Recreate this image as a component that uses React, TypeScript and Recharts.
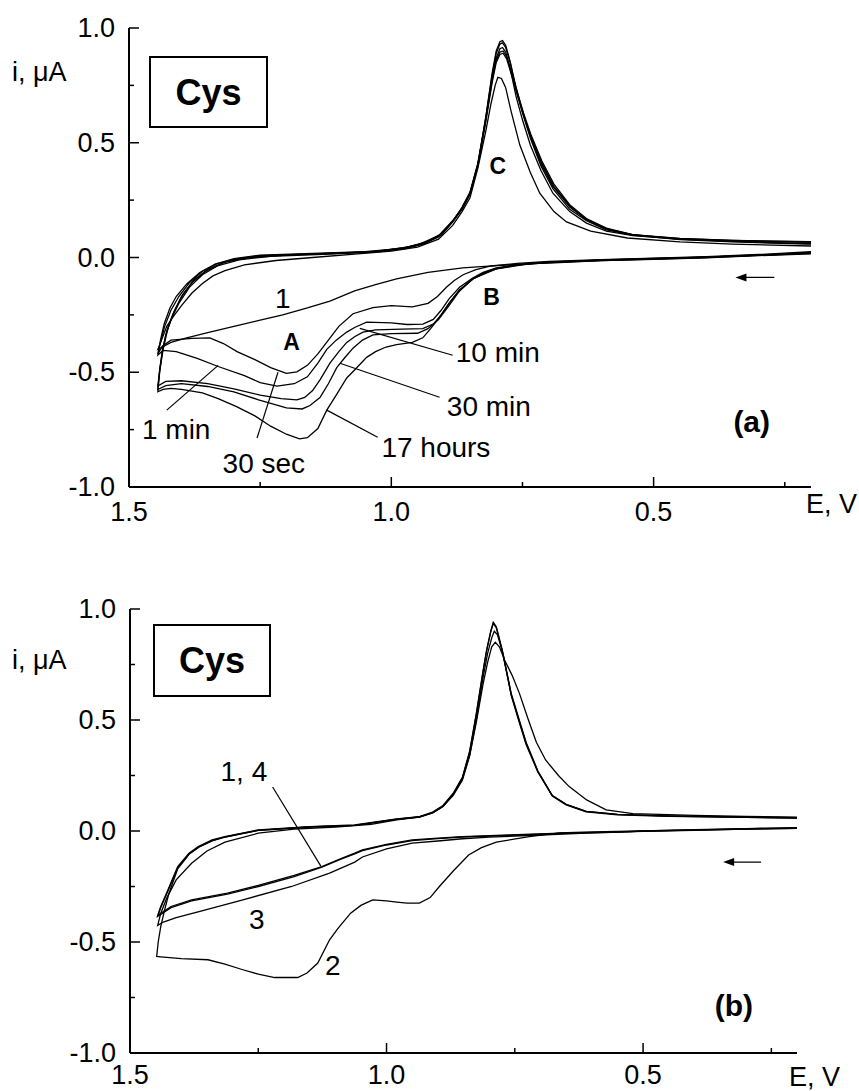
import React from 'react';
import { LineChart, Line, XAxis, YAxis, ReferenceLine, ReferenceDot } from 'recharts';

type P = [number, number]; // [E (V), i (µA)]

// x / y ticks
const xTicks = [1.5, 1.25, 1.0, 0.75, 0.5, 0.25];
const xLabels = [1.5, 1.0, 0.5];
const yTicks = [-1, -0.75, -0.5, -0.25, 0, 0.25, 0.5, 0.75, 1];
const yLabels = [-1, -0.5, 0, 0.5, 1];

// ---------- panel (a) ----------
const a1Lower: P[] = [[0.2,0.02],[0.3,0.01],[0.4,0.002],[0.5,-0.004],[0.6,-0.01],[0.7,-0.02],[0.74,-0.028],[0.8,-0.035],[0.864,-0.045],[0.93,-0.065],[0.99,-0.093],[1.03,-0.118],[1.07,-0.145],[1.117,-0.19],[1.16,-0.22],[1.207,-0.25],[1.254,-0.275],[1.3,-0.3],[1.346,-0.325],[1.39,-0.35],[1.42,-0.37],[1.445,-0.4]];
const a1Upper: P[] = [[1.445,-0.4],[1.438,-0.36],[1.428,-0.3],[1.415,-0.255],[1.4,-0.21],[1.38,-0.155],[1.36,-0.113],[1.34,-0.08],[1.317,-0.057],[1.28,-0.032],[1.22,-0.013],[1.15,0.0],[1.07,0.015],[1.0,0.028],[0.95,0.045],[0.91,0.08],[0.883,0.14],[0.865,0.2],[0.85,0.26],[0.835,0.39],[0.82,0.55],[0.81,0.67],[0.802,0.75],[0.797,0.785],[0.79,0.78],[0.782,0.74],[0.772,0.64],[0.755,0.49],[0.735,0.37],[0.717,0.28],[0.69,0.2],[0.666,0.155],[0.62,0.115],[0.55,0.085],[0.45,0.068],[0.35,0.058],[0.2,0.05]];

const a30sLower: P[] = [[0.2,0.025],[0.3,0.013],[0.4,0.004],[0.5,-0.003],[0.6,-0.009],[0.7,-0.017],[0.76,-0.026],[0.81,-0.037],[0.84,-0.054],[0.863,-0.075],[0.88,-0.1],[0.895,-0.13],[0.912,-0.17],[0.93,-0.2],[0.96,-0.215],[1.0,-0.21],[1.035,-0.218],[1.073,-0.245],[1.1,-0.3],[1.12,-0.36],[1.14,-0.42],[1.16,-0.47],[1.18,-0.498],[1.2,-0.505],[1.23,-0.48],[1.26,-0.445],[1.294,-0.41],[1.32,-0.375],[1.346,-0.35],[1.38,-0.352],[1.42,-0.36],[1.436,-0.385],[1.445,-0.42]];
const a30sUpper: P[] = [[1.445,-0.42],[1.44,-0.37],[1.432,-0.3],[1.42,-0.23],[1.405,-0.17],[1.385,-0.11],[1.36,-0.06],[1.33,-0.025],[1.3,-0.005],[1.25,0.01],[1.15,0.018],[1.05,0.025],[0.98,0.04],[0.946,0.058],[0.91,0.095],[0.883,0.16],[0.865,0.215],[0.85,0.28],[0.835,0.4],[0.82,0.6],[0.808,0.78],[0.8,0.87],[0.793,0.91],[0.788,0.915],[0.782,0.895],[0.773,0.82],[0.762,0.7],[0.75,0.6],[0.735,0.49],[0.715,0.38],[0.692,0.28],[0.66,0.2],[0.628,0.15],[0.59,0.115],[0.54,0.095],[0.45,0.08],[0.35,0.072],[0.2,0.066]];

const a1mLower: P[] = [[0.2,0.022],[0.3,0.011],[0.4,0.002],[0.5,-0.005],[0.6,-0.011],[0.7,-0.02],[0.76,-0.03],[0.8,-0.045],[0.825,-0.065],[0.845,-0.09],[0.87,-0.13],[0.89,-0.18],[0.905,-0.23],[0.92,-0.27],[0.94,-0.29],[0.97,-0.292],[1.0,-0.285],[1.047,-0.282],[1.07,-0.305],[1.085,-0.325],[1.105,-0.36],[1.123,-0.4],[1.14,-0.46],[1.16,-0.52],[1.185,-0.55],[1.218,-0.56],[1.25,-0.545],[1.28,-0.515],[1.33,-0.475],[1.37,-0.44],[1.41,-0.41],[1.435,-0.405],[1.445,-0.425]];
const a1mUpper: P[] = [[1.445,-0.425],[1.44,-0.36],[1.433,-0.29],[1.422,-0.22],[1.41,-0.17],[1.39,-0.115],[1.365,-0.065],[1.335,-0.028],[1.3,-0.008],[1.25,0.008],[1.15,0.016],[1.05,0.023],[0.98,0.038],[0.946,0.055],[0.91,0.09],[0.883,0.155],[0.865,0.21],[0.85,0.275],[0.835,0.4],[0.82,0.61],[0.808,0.8],[0.8,0.9],[0.793,0.94],[0.788,0.945],[0.782,0.925],[0.773,0.85],[0.762,0.73],[0.75,0.63],[0.735,0.52],[0.715,0.4],[0.692,0.3],[0.66,0.21],[0.628,0.16],[0.59,0.12],[0.54,0.098],[0.45,0.082],[0.35,0.074],[0.2,0.068]];

const a10mLower: P[] = [[0.2,0.02],[0.3,0.01],[0.4,0.001],[0.5,-0.006],[0.6,-0.012],[0.7,-0.021],[0.76,-0.032],[0.8,-0.048],[0.825,-0.068],[0.845,-0.095],[0.87,-0.14],[0.89,-0.2],[0.905,-0.25],[0.92,-0.29],[0.94,-0.31],[0.98,-0.312],[1.03,-0.315],[1.054,-0.325],[1.07,-0.345],[1.085,-0.37],[1.1,-0.41],[1.117,-0.46],[1.135,-0.53],[1.15,-0.58],[1.165,-0.61],[1.18,-0.62],[1.21,-0.615],[1.25,-0.6],[1.3,-0.572],[1.35,-0.55],[1.4,-0.537],[1.43,-0.54],[1.445,-0.56]];
const a10mUpper: P[] = [[1.445,-0.56],[1.441,-0.48],[1.436,-0.4],[1.428,-0.32],[1.416,-0.245],[1.4,-0.17],[1.38,-0.11],[1.355,-0.062],[1.32,-0.022],[1.28,-0.002],[1.22,0.01],[1.12,0.018],[1.03,0.027],[0.97,0.045],[0.935,0.065],[0.905,0.1],[0.883,0.16],[0.865,0.215],[0.85,0.28],[0.835,0.41],[0.82,0.61],[0.808,0.79],[0.8,0.89],[0.793,0.93],[0.788,0.935],[0.782,0.915],[0.773,0.845],[0.762,0.74],[0.75,0.64],[0.735,0.53],[0.715,0.41],[0.692,0.31],[0.66,0.22],[0.628,0.165],[0.59,0.125],[0.54,0.1],[0.45,0.083],[0.35,0.075],[0.2,0.069]];

const a30mLower: P[] = [[0.2,0.018],[0.3,0.009],[0.4,0.0],[0.5,-0.007],[0.6,-0.013],[0.7,-0.022],[0.76,-0.033],[0.8,-0.05],[0.825,-0.07],[0.845,-0.095],[0.87,-0.145],[0.89,-0.21],[0.91,-0.27],[0.93,-0.31],[0.95,-0.33],[1.0,-0.332],[1.035,-0.337],[1.055,-0.36],[1.073,-0.395],[1.09,-0.44],[1.104,-0.48],[1.12,-0.55],[1.136,-0.61],[1.155,-0.645],[1.17,-0.66],[1.2,-0.655],[1.253,-0.62],[1.3,-0.585],[1.35,-0.562],[1.4,-0.55],[1.43,-0.558],[1.445,-0.575]];
const a30mUpper: P[] = [[1.445,-0.575],[1.441,-0.49],[1.435,-0.4],[1.426,-0.31],[1.413,-0.23],[1.397,-0.16],[1.377,-0.1],[1.35,-0.052],[1.315,-0.018],[1.27,0.0],[1.2,0.01],[1.1,0.018],[1.02,0.028],[0.965,0.047],[0.93,0.07],[0.903,0.105],[0.882,0.16],[0.865,0.22],[0.85,0.285],[0.835,0.41],[0.82,0.6],[0.808,0.77],[0.8,0.86],[0.793,0.895],[0.787,0.9],[0.78,0.875],[0.77,0.8],[0.76,0.72],[0.748,0.63],[0.733,0.53],[0.713,0.42],[0.69,0.32],[0.66,0.23],[0.628,0.17],[0.59,0.128],[0.54,0.1],[0.45,0.08],[0.35,0.07],[0.2,0.06]];

const a17hLower: P[] = [[0.2,0.016],[0.3,0.008],[0.4,-0.001],[0.5,-0.008],[0.6,-0.014],[0.7,-0.024],[0.736,-0.027],[0.8,-0.05],[0.845,-0.093],[0.875,-0.157],[0.89,-0.2],[0.908,-0.26],[0.925,-0.31],[0.94,-0.35],[0.96,-0.37],[0.99,-0.38],[1.01,-0.39],[1.03,-0.41],[1.047,-0.435],[1.07,-0.49],[1.085,-0.525],[1.105,-0.6],[1.123,-0.665],[1.14,-0.745],[1.16,-0.785],[1.175,-0.79],[1.2,-0.77],[1.23,-0.735],[1.26,-0.69],[1.295,-0.65],[1.33,-0.615],[1.36,-0.59],[1.4,-0.575],[1.42,-0.57],[1.435,-0.575],[1.445,-0.585]];
const a17hUpper: P[] = [[1.445,-0.585],[1.442,-0.5],[1.437,-0.42],[1.43,-0.34],[1.42,-0.27],[1.405,-0.2],[1.385,-0.13],[1.36,-0.075],[1.33,-0.035],[1.29,-0.01],[1.23,0.005],[1.13,0.014],[1.03,0.024],[0.97,0.04],[0.935,0.062],[0.905,0.097],[0.883,0.155],[0.865,0.215],[0.85,0.28],[0.835,0.4],[0.82,0.59],[0.808,0.76],[0.8,0.85],[0.793,0.885],[0.787,0.89],[0.78,0.865],[0.77,0.79],[0.76,0.71],[0.748,0.62],[0.733,0.52],[0.713,0.41],[0.69,0.31],[0.66,0.225],[0.628,0.165],[0.59,0.125],[0.54,0.098],[0.45,0.078],[0.35,0.068],[0.2,0.058]];

// ---------- panel (b) ----------
const b1Lower: P[] = [[0.2,0.014],[0.3,0.01],[0.4,0.005],[0.5,0.0],[0.56,-0.005],[0.66,-0.01],[0.76,-0.018],[0.852,-0.025],[0.9,-0.032],[0.95,-0.04],[1.0,-0.06],[1.047,-0.085],[1.062,-0.1],[1.09,-0.125],[1.126,-0.16],[1.18,-0.2],[1.25,-0.245],[1.31,-0.28],[1.38,-0.31],[1.42,-0.34],[1.446,-0.38]];
const b1Upper: P[] = [[1.446,-0.38],[1.44,-0.34],[1.426,-0.265],[1.407,-0.16],[1.385,-0.1],[1.367,-0.07],[1.34,-0.04],[1.315,-0.025],[1.25,0.005],[1.15,0.02],[1.062,0.027],[0.98,0.055],[0.936,0.065],[0.91,0.085],[0.89,0.115],[0.87,0.17],[0.852,0.243],[0.838,0.36],[0.825,0.53],[0.812,0.72],[0.805,0.815],[0.797,0.9],[0.792,0.94],[0.786,0.92],[0.775,0.82],[0.757,0.62],[0.74,0.49],[0.728,0.4],[0.705,0.27],[0.677,0.16],[0.65,0.12],[0.611,0.088],[0.55,0.075],[0.45,0.068],[0.3,0.064],[0.2,0.06]];

const b4Lower: P[] = [[0.2,0.012],[0.3,0.009],[0.4,0.004],[0.5,-0.001],[0.56,-0.006],[0.66,-0.011],[0.76,-0.02],[0.852,-0.027],[0.9,-0.034],[0.95,-0.043],[1.0,-0.063],[1.047,-0.088],[1.062,-0.103],[1.09,-0.128],[1.126,-0.163],[1.18,-0.205],[1.25,-0.25],[1.31,-0.284],[1.38,-0.315],[1.42,-0.345],[1.446,-0.385]];
const b4Upper: P[] = [[1.446,-0.385],[1.44,-0.345],[1.426,-0.27],[1.407,-0.165],[1.385,-0.104],[1.367,-0.073],[1.34,-0.043],[1.315,-0.027],[1.25,0.003],[1.15,0.018],[1.062,0.025],[0.98,0.052],[0.936,0.063],[0.91,0.083],[0.89,0.112],[0.87,0.167],[0.852,0.24],[0.838,0.355],[0.825,0.525],[0.812,0.715],[0.805,0.81],[0.797,0.895],[0.792,0.935],[0.786,0.915],[0.775,0.815],[0.757,0.615],[0.74,0.485],[0.728,0.395],[0.705,0.268],[0.677,0.158],[0.65,0.118],[0.611,0.086],[0.55,0.073],[0.45,0.066],[0.3,0.062],[0.2,0.058]];

const b3Lower: P[] = [[0.2,0.012],[0.3,0.008],[0.4,0.003],[0.5,-0.002],[0.6,-0.008],[0.7,-0.018],[0.8,-0.028],[0.852,-0.035],[0.9,-0.045],[0.95,-0.055],[1.0,-0.08],[1.047,-0.117],[1.062,-0.14],[1.111,-0.19],[1.185,-0.25],[1.28,-0.31],[1.36,-0.36],[1.41,-0.39],[1.435,-0.41],[1.446,-0.425]];
const b3Upper: P[] = [[1.446,-0.425],[1.44,-0.37],[1.428,-0.3],[1.41,-0.22],[1.38,-0.145],[1.35,-0.09],[1.315,-0.05],[1.25,-0.01],[1.18,0.008],[1.1,0.018],[1.03,0.03],[0.98,0.05],[0.936,0.063],[0.91,0.082],[0.89,0.11],[0.87,0.16],[0.852,0.23],[0.838,0.34],[0.825,0.5],[0.812,0.69],[0.803,0.8],[0.795,0.87],[0.79,0.9],[0.784,0.885],[0.773,0.8],[0.757,0.61],[0.74,0.48],[0.728,0.39],[0.705,0.265],[0.677,0.16],[0.65,0.12],[0.611,0.088],[0.55,0.075],[0.45,0.067],[0.3,0.062],[0.2,0.058]];

const b2Lower: P[] = [[0.2,0.015],[0.3,0.011],[0.4,0.006],[0.5,0.001],[0.6,-0.004],[0.663,-0.008],[0.722,-0.025],[0.786,-0.05],[0.815,-0.075],[0.84,-0.108],[0.87,-0.18],[0.897,-0.25],[0.915,-0.3],[0.936,-0.325],[0.96,-0.325],[0.98,-0.32],[1.0,-0.315],[1.027,-0.31],[1.05,-0.335],[1.07,-0.37],[1.095,-0.44],[1.111,-0.49],[1.134,-0.595],[1.155,-0.64],[1.173,-0.66],[1.218,-0.66],[1.25,-0.645],[1.28,-0.625],[1.315,-0.6],[1.348,-0.58],[1.4,-0.575],[1.44,-0.567],[1.448,-0.565]];
const b2Upper: P[] = [[1.448,-0.565],[1.445,-0.5],[1.44,-0.43],[1.433,-0.36],[1.424,-0.28],[1.407,-0.17],[1.385,-0.105],[1.365,-0.072],[1.34,-0.045],[1.315,-0.028],[1.25,0.003],[1.15,0.018],[1.062,0.025],[0.98,0.053],[0.936,0.064],[0.91,0.083],[0.89,0.11],[0.87,0.165],[0.852,0.235],[0.838,0.34],[0.825,0.49],[0.812,0.66],[0.803,0.76],[0.795,0.83],[0.788,0.85],[0.78,0.83],[0.77,0.77],[0.755,0.7],[0.741,0.62],[0.725,0.51],[0.708,0.4],[0.69,0.32],[0.665,0.25],[0.644,0.2],[0.61,0.14],[0.572,0.095],[0.52,0.078],[0.4,0.07],[0.3,0.066],[0.2,0.062]];

const loop = (lower: P[], upper: P[]) => [...lower, ...upper].map(([E, i]) => ({ E, i }));

const curvesA = [
  loop(a1Lower, a1Upper),
  loop(a30sLower, a30sUpper),
  loop(a1mLower, a1mUpper),
  loop(a10mLower, a10mUpper),
  loop(a30mLower, a30mUpper),
  loop(a17hLower, a17hUpper),
];
const curvesB = [
  loop(b1Lower, b1Upper),
  loop(b4Lower, b4Upper),
  loop(b3Lower, b3Upper),
  loop(b2Lower, b2Upper),
];

// annotations (data coordinates)
const textsA = [
  { x: 1.207, y: -0.178, t: '1' },
  { x: 1.19, y: -0.37, t: 'A', b: true },
  { x: 0.809, y: -0.174, t: 'B', b: true },
  { x: 0.797, y: 0.4, t: 'C', b: true },
  { x: 0.797, y: -0.413, t: '10 min' },
  { x: 0.814, y: -0.648, t: '30 min' },
  { x: 0.915, y: -0.83, t: '17 hours' },
  { x: 1.41, y: -0.748, t: '1 min' },
  { x: 1.243, y: -0.896, t: '30 sec' },
  { x: 0.313, y: -0.713, t: '(a)', b: true, big: true },
];
const leadersA = [
  [[1.428, -0.665], [1.33, -0.47]],
  [[1.256, -0.787], [1.216, -0.5]],
  [[1.026, -0.783], [1.123, -0.665]],
  [[0.908, -0.609], [1.098, -0.461]],
  [[0.883, -0.426], [1.06, -0.309]],
];
const textsB = [
  { x: 1.278, y: 0.266, t: '1, 4' },
  { x: 1.253, y: -0.4, t: '3' },
  { x: 1.105, y: -0.604, t: '2' },
  { x: 0.323, y: -0.784, t: '(b)', b: true, big: true },
];
const leadersB = [[[1.222, 0.198], [1.128, -0.158]]];

const FONT = '"Liberation Sans", Arial, Helvetica, sans-serif';
const MAJOR = 10;
const MINOR = 5;
const near = (v: number, arr: number[]) => arr.some((a) => Math.abs(a - v) < 1e-6);

function XTick(props: any) {
  const { x, y, payload, side, dy } = props;
  const major = near(payload.value, xLabels);
  const len = major ? MAJOR : MINOR;
  const dir = side === 'bottom' ? -1 : 1;
  return (
    <g>
      <line x1={x} x2={x} y1={y} y2={y + dir * len} stroke="#000" strokeWidth={1.5} />
      {side === 'bottom' && major && (
        <text x={x} y={y + dy} textAnchor="middle" fontSize={27} fontFamily={FONT} fill="#000">
          {payload.value.toFixed(1)}
        </text>
      )}
    </g>
  );
}

function YTick(props: any) {
  const { x, y, payload, side } = props;
  const major = near(payload.value, yLabels);
  const len = major ? MAJOR : MINOR;
  const dir = side === 'left' ? 1 : -1;
  return (
    <g>
      <line x1={x} x2={x + dir * len} y1={y} y2={y} stroke="#000" strokeWidth={1.5} />
      {side === 'left' && major && (
        <text x={x - 14} y={y + 9} textAnchor="end" fontSize={27} fontFamily={FONT} fill="#000">
          {payload.value.toFixed(1)}
        </text>
      )}
    </g>
  );
}

function Panel({ top, height, margin, yWidth, xHeight, xDy, curves, texts, leaders, arrowY }: any) {
  const axisLine = { stroke: '#000', strokeWidth: 2 };
  return (
    <div style={{ position: 'absolute', left: 0, top }}>
      <LineChart width={859} height={height} margin={margin}>
        <XAxis
          dataKey="E" type="number" domain={[0.2, 1.5]} reversed allowDataOverflow
          ticks={xTicks} interval={0} height={xHeight} tickSize={0} tickMargin={0}
          axisLine={axisLine} tickLine={false}
          tick={(p: any) => <XTick {...p} side="bottom" dy={xDy} />}
        />
        <XAxis
          xAxisId="top" orientation="top" dataKey="E" type="number" domain={[0.2, 1.5]} reversed allowDataOverflow
          ticks={xTicks} interval={0} height={0} tickSize={0} tickMargin={0}
          axisLine={axisLine} tickLine={false}
          tick={(p: any) => <XTick {...p} side="top" />}
        />
        <YAxis
          type="number" domain={[-1, 1]} allowDataOverflow ticks={yTicks} interval={0}
          width={yWidth} tickSize={0} tickMargin={0} axisLine={axisLine} tickLine={false}
          tick={(p: any) => <YTick {...p} side="left" />}
        />
        <YAxis
          yAxisId="right" orientation="right" type="number" domain={[-1, 1]} allowDataOverflow ticks={yTicks} interval={0}
          width={0} tickSize={0} tickMargin={0} axisLine={axisLine} tickLine={false}
          tick={(p: any) => <YTick {...p} side="right" />}
        />
        {curves.map((c: any, k: number) => (
          <Line
            key={k} data={c} dataKey="i" type="linear" stroke="#000" strokeWidth={1.3}
            dot={false} activeDot={false} isAnimationActive={false}
          />
        ))}
        {leaders.map((s: any, k: number) => (
          <ReferenceLine
            key={'l' + k}
            segment={[{ x: s[0][0], y: s[0][1] }, { x: s[1][0], y: s[1][1] }]}
            stroke="#000" strokeWidth={1.2}
          />
        ))}
        <ReferenceLine segment={[{ x: 0.27, y: arrowY }, { x: 0.335, y: arrowY }]} stroke="#000" strokeWidth={1.3} />
        <ReferenceDot
          x={0.344} y={arrowY} r={1}
          shape={(p: any) => (
            <path d={`M${p.cx},${p.cy} L${p.cx + 11},${p.cy - 4} L${p.cx + 11},${p.cy + 4} Z`} fill="#000" />
          )}
        />
        {texts.map((t: any, k: number) => (
          <ReferenceDot
            key={'t' + k} x={t.x} y={t.y} r={1}
            shape={(p: any) => (
              <text
                x={p.cx} y={p.cy} textAnchor="middle" dominantBaseline="central"
                fontSize={t.big ? 30 : t.b ? 23 : 28} fontWeight={t.b ? 'bold' : 'normal'}
                fontFamily={FONT} fill="#000"
              >
                {t.t}
              </text>
            )}
          />
        ))}
      </LineChart>
    </div>
  );
}

export default function App() {
  return (
    <div style={{ position: 'absolute', left: 0, top: 0, width: 859, height: 1091, background: '#fff' }}>
      <Panel
        top={0} height={545} margin={{ top: 28, right: 48, left: 0, bottom: 0 }}
        yWidth={129} xHeight={58} xDy={34} curves={curvesA} texts={textsA} leaders={leadersA} arrowY={-0.087}
      />
      <Panel
        top={570} height={521} margin={{ top: 39, right: 62, left: 0, bottom: 0 }}
        yWidth={130} xHeight={38} xDy={31} curves={curvesB} texts={textsB} leaders={leadersB} arrowY={-0.14}
      />
      <svg width={859} height={1091} style={{ position: 'absolute', left: 0, top: 0, pointerEvents: 'none' }}>
        <g fontFamily={FONT} fill="#000">
          <text x={12} y={81} fontSize={27}>i, μA</text>
          <text x={12} y={669} fontSize={27}>i, μA</text>
          <text x={806} y={513} fontSize={27}>E, V</text>
          <text x={789} y={1086} fontSize={27}>E, V</text>
        </g>
        <rect x={150} y={57} width={117} height={70} fill="#fff" stroke="#000" strokeWidth={2} />
        <text x={208.5} y={105} textAnchor="middle" fontSize={36} fontWeight="bold" fontFamily={FONT}>Cys</text>
        <rect x={154} y={625} width={116} height={71} fill="#fff" stroke="#000" strokeWidth={2} />
        <text x={212} y={673} textAnchor="middle" fontSize={36} fontWeight="bold" fontFamily={FONT}>Cys</text>
      </svg>
    </div>
  );
}
